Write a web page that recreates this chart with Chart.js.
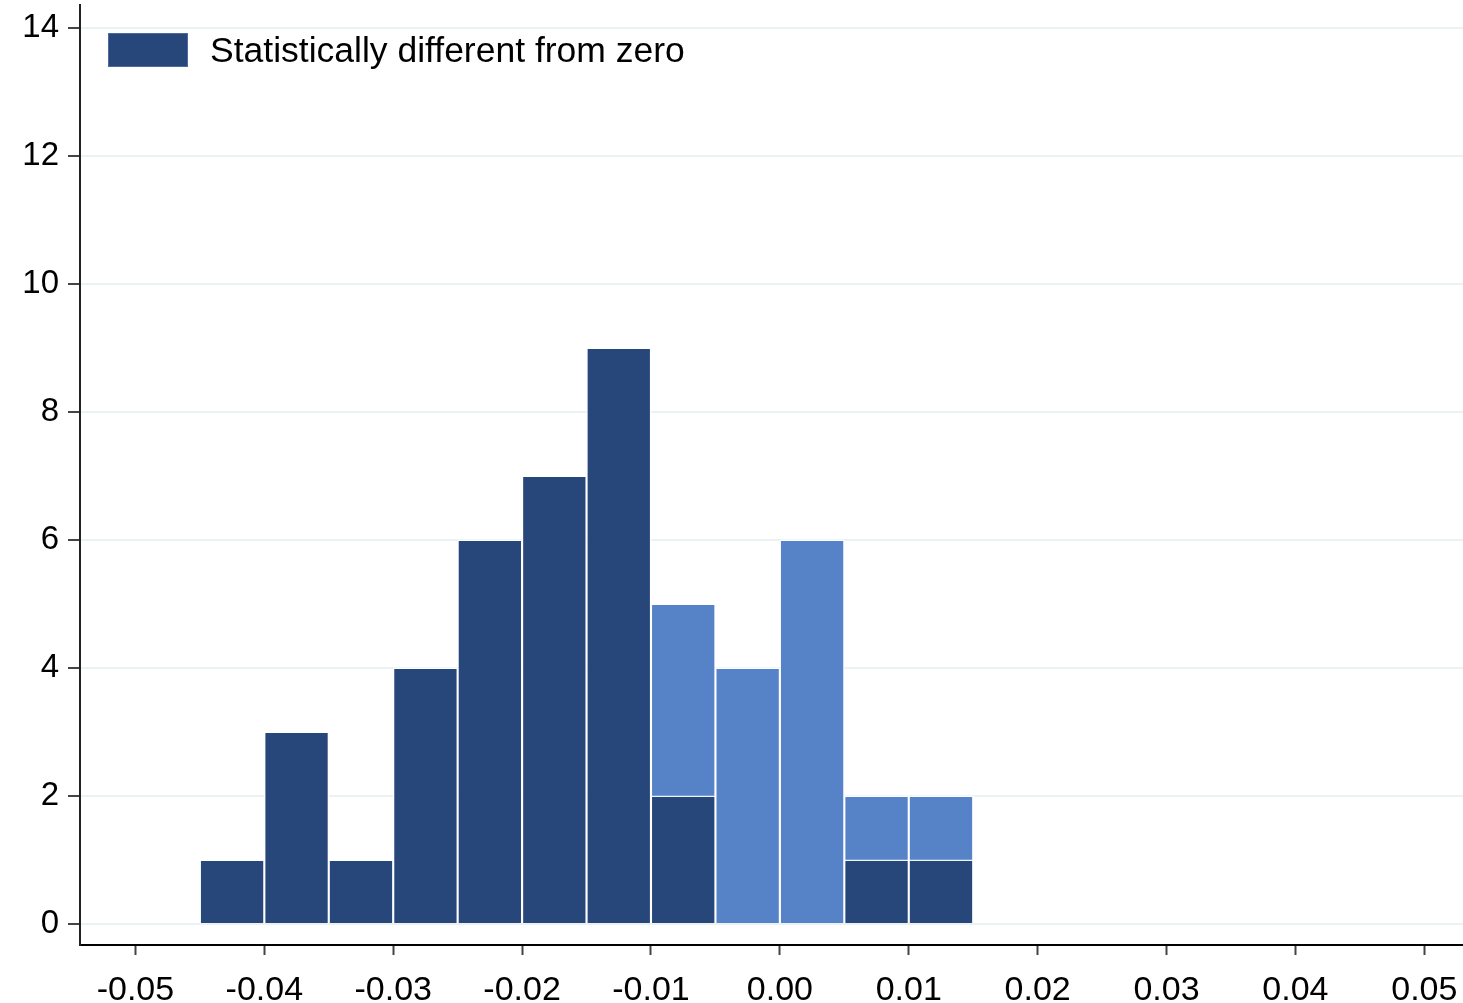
<!DOCTYPE html>
<html>
<head>
<meta charset="utf-8">
<script src="https://cdn.jsdelivr.net/npm/chart.js@4/dist/chart.umd.min.js"></script>
<style>
  html, body { margin: 0; padding: 0; background: #fff; }
  #c { display: block; }
</style>
</head>
<body>
<canvas id="c" width="1463" height="1003"></canvas>
<script>
// bin centres (bin width 0.005)
var binsAll = [-0.0425, -0.0375, -0.0325, -0.0275, -0.0225, -0.0175, -0.0125, -0.0075, -0.0025, 0.0025, 0.0075, 0.0125];
var countSignif = [1, 3, 1, 4, 6, 7, 9, 2, 0, 0, 1, 1];
var binsTotal = [-0.0075, -0.0025, 0.0025, 0.0075, 0.0125];
var countTotal = [5, 4, 6, 2, 2];
var xTicks = [-0.05, -0.04, -0.03, -0.02, -0.01, 0, 0.01, 0.02, 0.03, 0.04, 0.05];
var yTicks = [0, 2, 4, 6, 8, 10, 12, 14];

var darkBlue = '#27467a';
var lightBlue = '#5683c8';

function pts(xs, ys) {
  var out = [];
  for (let i = 0; i < xs.length; i++) {
    out.push({ x: xs[i], y: ys[i] });
  }
  return out;
}

// legend drawn inside the plot, top left
var insideLegend = {
  id: 'insideLegend',
  afterDraw: function(chart) {
    var ctx = chart.ctx;
    var a = chart.chartArea;
    var ds = chart.data.datasets[0];
    ctx.save();
    ctx.fillStyle = ds.backgroundColor;
    ctx.fillRect(a.left + 28, a.top + 28, 80, 34);
    ctx.strokeStyle = '#4d6a9a';
    ctx.lineWidth = 1;
    ctx.strokeRect(a.left + 28.5, a.top + 28.5, 79, 33);
    ctx.fillStyle = '#000';
    ctx.font = '35.5px "Liberation Sans", Arial, sans-serif';
    ctx.textBaseline = 'middle';
    ctx.fillText(ds.label, a.left + 130, a.top + 47);
    ctx.restore();
  }
};

function noPad(scale) {
  scale.paddingTop = 0;
  scale.paddingBottom = 0;
  scale.paddingLeft = 0;
  scale.paddingRight = 0;
}

var ctx = document.getElementById('c').getContext('2d');
var chart = new Chart(ctx, {
  type: 'bar',
  data: {
    datasets: [
      {
        label: 'Statistically different from zero',
        data: pts(binsAll, countSignif),
        backgroundColor: darkBlue,
        borderColor: 'rgba(255,255,255,0.9)',
        borderWidth: 1.4,
        barPercentage: 1,
        categoryPercentage: 1,
        grouped: false
      },
      {
        label: 'All estimates',
        data: pts(binsTotal, countTotal),
        backgroundColor: lightBlue,
        borderColor: 'rgba(255,255,255,0.9)',
        borderWidth: 1.4,
        barPercentage: 1,
        categoryPercentage: 1,
        grouped: false
      }
    ]
  },
  options: {
    responsive: false,
    animation: false,
    layout: { padding: { top: 5, right: 0, left: 0, bottom: 0 } },
    plugins: {
      legend: { display: false },
      tooltip: { enabled: false }
    },
    scales: {
      x: {
        type: 'linear',
        min: -0.0543,
        max: 0.053,
        offset: false,
        afterBuildTicks: function(scale) {
          scale.ticks = xTicks.map(function(v) { return { value: v }; });
        },
        afterFit: function(scale) {
          scale.height = 58;
          noPad(scale);
        },
        grid: {
          offset: false,
          drawOnChartArea: false,
          tickLength: 10,
          tickColor: '#444',
          tickWidth: 2
        },
        border: { color: '#000', width: 2 },
        ticks: {
          color: '#000',
          padding: 15,
          maxRotation: 0,
          autoSkip: false,
          font: { family: '"Liberation Sans", Arial, sans-serif', size: 34 },
          callback: function(v) { return Number(v).toFixed(2); }
        }
      },
      y: {
        min: -0.33,
        max: 14.36,
        afterBuildTicks: function(scale) {
          scale.ticks = yTicks.map(function(v) { return { value: v }; });
        },
        afterFit: function(scale) {
          scale.width = 80;
          noPad(scale);
        },
        grid: {
          color: '#eaf2f3',
          lineWidth: 2,
          tickLength: 12,
          tickColor: '#444',
          tickWidth: 2
        },
        border: { color: '#222', width: 2 },
        ticks: {
          color: '#000',
          padding: 9,
          font: { family: '"Liberation Sans", Arial, sans-serif', size: 33 }
        }
      }
    }
  },
  plugins: [insideLegend]
});
</script>
</body>
</html>
